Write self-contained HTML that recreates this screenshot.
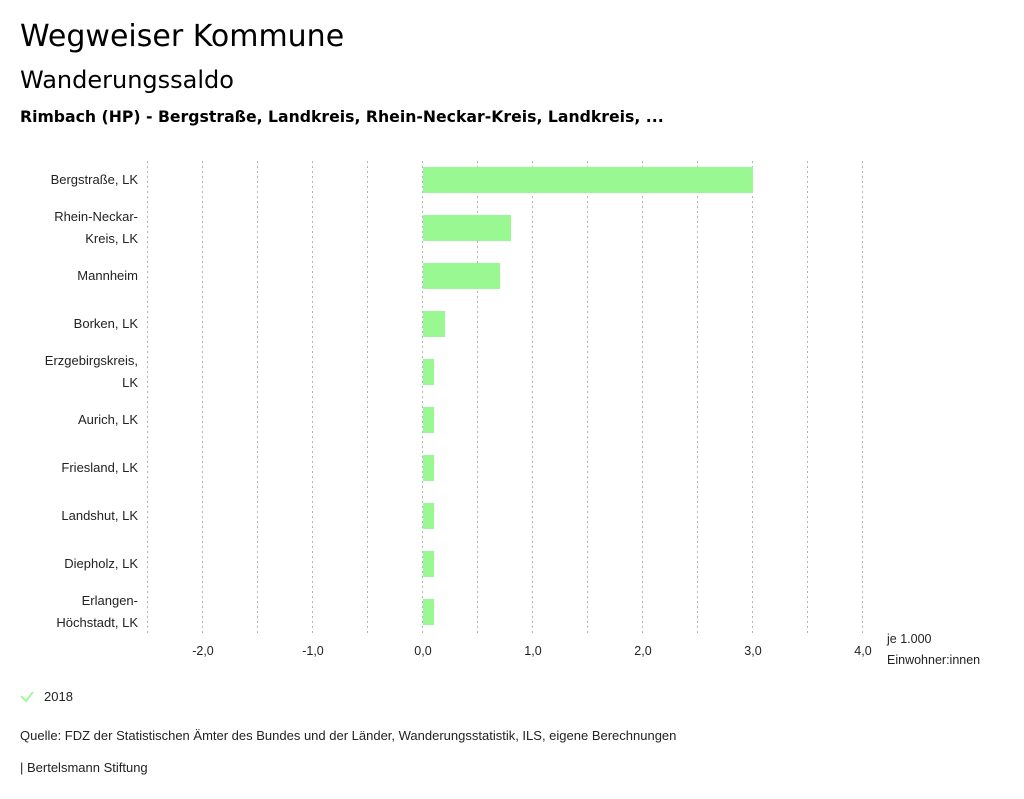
<!DOCTYPE html>
<html><head><meta charset="utf-8"><style>
body{margin:0;background:#fff;width:1024px;height:799px;overflow:hidden;font-family:"Liberation Sans","DejaVu Sans",sans-serif;color:#000}
.t{position:absolute;left:20px;white-space:nowrap}
</style></head><body>
<div class="t" style="top:19px;font-size:30px;font-family:'DejaVu Sans',sans-serif;">Wegweiser Kommune</div>
<div class="t" style="top:66px;font-size:24px;font-family:'DejaVu Sans',sans-serif;">Wanderungssaldo</div>
<div class="t" style="top:107px;font-size:15.7px;font-weight:bold;font-family:'DejaVu Sans',sans-serif;">Rimbach (HP) - Bergstraße, Landkreis, Rhein-Neckar-Kreis, Landkreis, ...</div>
<svg id="chart" width="1024" height="799" style="position:absolute;left:0;top:0"></svg>
<script>
const categories=[["Bergstraße, LK"],["Rhein-Neckar-","Kreis, LK"],["Mannheim"],["Borken, LK"],["Erzgebirgskreis,","LK"],["Aurich, LK"],["Friesland, LK"],["Landshut, LK"],["Diepholz, LK"],["Erlangen-","Höchstadt, LK"]];
const values2018=[3.0,0.8,0.7,0.2,0.1,0.1,0.1,0.1,0.1,0.1];
const tickValues=[-2,-1,0,1,2,3,4];
const tickLabels=["-2,0","-1,0","0,0","1,0","2,0","3,0","4,0"];
const gridValues=[-2.5,-2,-1.5,-1,-0.5,0,0.5,1,1.5,2,2.5,3,3.5,4];
const svg=document.getElementById('chart');
const NS='http://www.w3.org/2000/svg';
const x=v=>423+v*110;
const yc=i=>180+i*48;
function mk(tag,attrs,txt){const e=document.createElementNS(NS,tag);for(const k in attrs)e.setAttribute(k,attrs[k]);if(txt!=null)e.textContent=txt;svg.appendChild(e);return e;}
gridValues.forEach(v=>{
 const l=mk('line',{x1:x(v)-0.5,x2:x(v)-0.5,y1:161,y2:636,stroke:'#b3b3b3','stroke-dasharray':'2,3','stroke-width':1});
 
 
});
values2018.forEach((v,i)=>{
 const r=mk('rect',{x:Math.min(x(0),x(v)),y:yc(i)-13,width:Math.abs(x(v)-x(0)),height:26,fill:'#9af893'});
 
 
 const lines=categories[i];
 lines.forEach((s,j)=>{
  const t=mk('text',{x:138,y:yc(i)+4+(lines.length>1?(j-0.5)*22:0),'text-anchor':'end','font-size':13,fill:'#222'},s);
  
  
 });
});
tickValues.forEach((v,i)=>{
 const t=mk('text',{x:x(v),y:655,'text-anchor':'middle','font-size':12.5,fill:'#222'},tickLabels[i]);
 
 
});
const u1=mk('text',{x:887,y:643,'font-size':12.5,fill:'#222'},'je 1.000');


const u2=mk('text',{x:887,y:664,'font-size':12.5,fill:'#222'},'Einwohner:innen');


const ck=mk('path',{d:'M21 696 L26 701 L33 692',stroke:'#9af893','stroke-width':1.8,fill:'none'});


const lg=mk('text',{x:44,y:701,'font-size':13,fill:'#222'},'2018');


const src=mk('text',{x:20,y:740,'font-size':13,fill:'#222'},'Quelle: FDZ der Statistischen Ämter des Bundes und der Länder, Wanderungsstatistik, ILS, eigene Berechnungen');


const cr=mk('text',{x:20,y:772,'font-size':13,fill:'#222'},'| Bertelsmann Stiftung');


</script>
</body></html>
